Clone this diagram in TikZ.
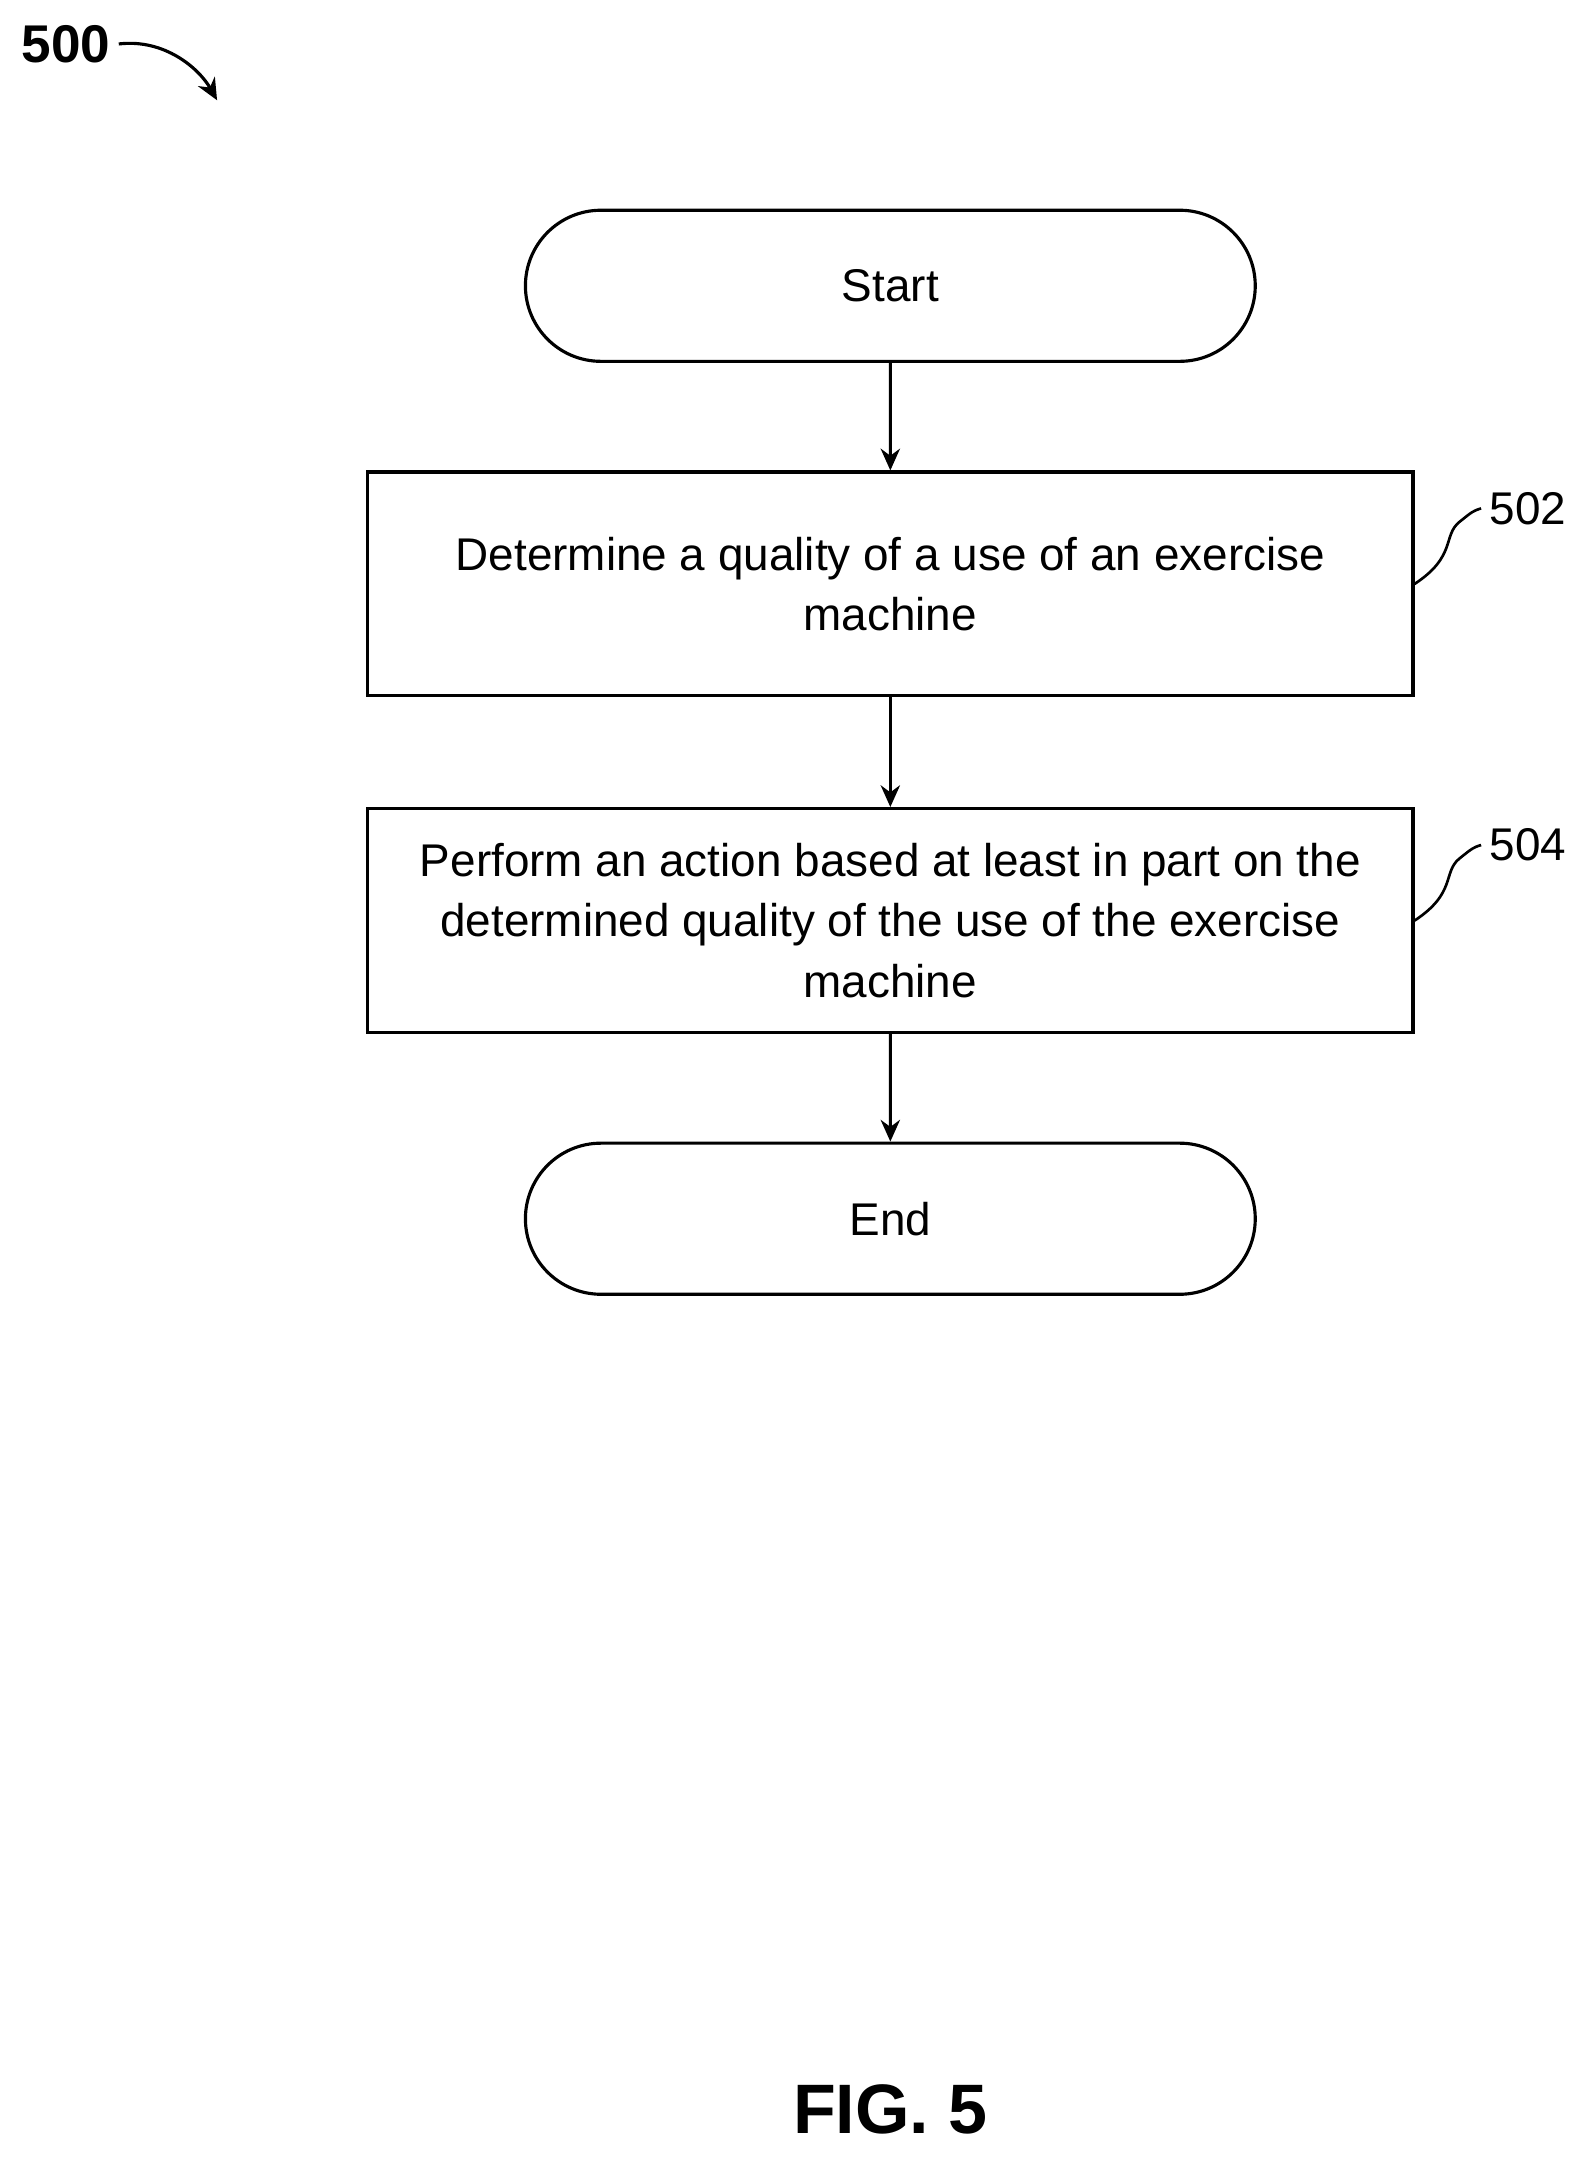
\documentclass[tikz,border=0pt]{standalone}
\usepackage{fontspec}
\setmainfont{Liberation Sans}
\usetikzlibrary{arrows.meta,shapes.misc,positioning}
\tikzstyle{terminal} = [rounded rectangle, draw, line width=1.3pt, minimum width=10.86cm, minimum height=2.2cm, font=\fontsize{19}{23}\selectfont]
\tikzstyle{process} = [rectangle, draw, line width=1.3pt, minimum width=15.22cm, minimum height=3.26cm, align=center, font=\fontsize{19}{25}\selectfont]
\tikzstyle{line} = [draw, line width=1.3pt, -{Stealth[length=9pt,width=8pt]}]
\tikzstyle{ref} = [font=\fontsize{19}{23}\selectfont]

\begin{document}
\begin{tikzpicture}[x=0.02cm, y=-0.02cm]
    \useasboundingbox (0,0) rectangle (1160,1575);
    \node [terminal] (start) at (648,208) {Start};
    \node [process] (determine) at (648,425) {Determine a quality of a use of an exercise\\machine};
    \node [process] (perform) at (648,670) {Perform an action based at least in part on the\\determined quality of the use of the exercise\\machine};
    \node [terminal] (end) at (648,887) {End};

    \path [line] (start) -- (determine);
    \path [line] (determine) -- (perform);
    \path [line] (perform) -- (end);

    % reference numerals
    \node [ref] (n502) at (1112,370) {502};
    \node [ref] (n504) at (1112,615) {504};
    \draw [line width=1.1pt] (determine.east) .. controls (1060,405) and (1050,390) .. (1062,380) .. controls (1072,372) .. (n502.west);
    \draw [line width=1.1pt] (perform.east) .. controls (1060,650) and (1050,635) .. (1062,625) .. controls (1072,617) .. (n504.west);

    \node [font=\bfseries\fontsize{22}{26}\selectfont] (fig500) at (48,32) {500};
    \draw [line width=1.3pt, -{Stealth[length=9pt,width=8pt]}] (fig500.east) .. controls (120,28) and (145,50) .. (158,73);

    \node [font=\bfseries\fontsize{29}{34}\selectfont] (caption) at (648,1535) {FIG. 5};
\end{tikzpicture}
\end{document}
